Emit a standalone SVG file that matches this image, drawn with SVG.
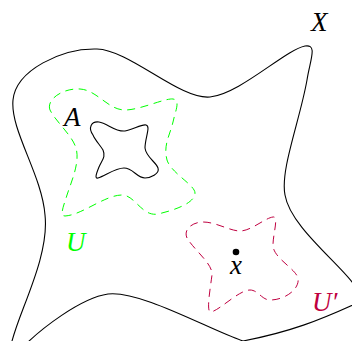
<svg xmlns="http://www.w3.org/2000/svg" width="352" height="341" viewBox="0 0 352 341">
<style>
.solid{fill:none;stroke:#000;stroke-width:1.1}
.dashU{fill:none;stroke:#00ff00;stroke-width:1;stroke-dasharray:8 5.5}
.dashV{fill:none;stroke:#bf0040;stroke-width:1;stroke-dasharray:8 5.5}
.lbl{font-family:"Liberation Serif","Times New Roman",serif;font-style:italic;font-size:27px}
</style>
<rect width="352" height="341" fill="#fff"/>
<g id="X">
<path class="solid" d="M 10,350 C 14,320 50,260 45,215 C 42,175 10,130 13,100 C 16,70 62,48 97,49 C 130,50 180,100 210,97 C 240,94 285,50 305,46 C 318,44 310,60 307,80 C 300,120 280,170 285,195 C 290,225 335,260 352,282 C 365,300 370,310 355,304 C 320,320 290,332 243,341 C 210,330 140,290 108,294 C 80,298 40,330 25,345"/>
<text class="lbl" x="311" y="31">X</text>
</g>
<g id="A">
<path class="solid" d="M 93,135 C 88,128 91,121 99,122 C 107,123 115,132 125,131 C 133,130 141,124 146,125 C 151,126 145,138 145,148 C 146,157 156,162 158,168 C 160,174 150,178 145,178 C 137,178 133,168 124,168 C 115,168 105,176 98,178 C 94,179 97,172 99,167 C 102,160 106,157 103,150 C 100,145 95,140 93,135 Z"/>
<text class="lbl" x="64" y="126">A</text>
</g>
<g id="U">
<path class="dashU" d="M 50,110 C 46,100 62,88 80,89 C 97,90 108,110 125,110 C 140,110 165,98 173,99 C 181,100 175,112 173,122 C 170,135 163,145 167,160 C 171,173 195,185 195,193 C 195,203 175,210 158,214 C 142,217 135,195 122,195 C 105,195 82,215 65,216 C 59,216 64,205 67,195 C 72,180 80,162 76,148 C 72,135 56,122 50,110 Z"/>
<text class="lbl" x="66" y="251" fill="#00ff00">U</text>
</g>
<g id="Uprime">
<path class="dashV" d="M 187,238 C 183,229 193,222 203,222 C 216,222 230,231 240,231 C 251,231 265,218 273,217 C 279,216 273,234 273,245 C 273,258 295,268 298,278 C 300,289 285,300 270,300 C 262,300 258,290 250,290 C 239,290 220,310 211,312 C 206,313 210,290 212,275 C 213,264 195,251 187,238 Z"/>
<text class="lbl" x="312" y="311" fill="#bf0040">U′</text>
</g>
<g id="x">
<circle cx="236" cy="252" r="3.3" fill="#000"/>
<text class="lbl" x="236" y="274" text-anchor="middle">x</text>
</g>
</svg>
